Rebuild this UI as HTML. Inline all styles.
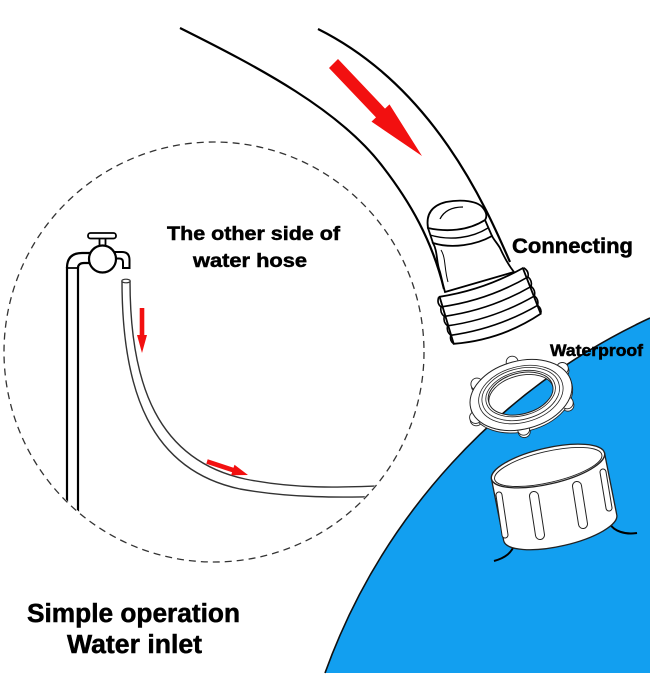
<!DOCTYPE html>
<html>
<head>
<meta charset="utf-8">
<style>
  html, body { margin: 0; padding: 0; background: #fff; }
  svg { display: block; }
  text { font-family: "Liberation Sans", Arial, sans-serif; font-weight: bold; fill: #000; stroke: #000; stroke-width: 0.5; }
</style>
</head>
<body>
<svg width="650" height="700" viewBox="0 0 650 700" xmlns="http://www.w3.org/2000/svg">
  <defs>
    <clipPath id="circ"><circle cx="214" cy="352" r="209"/></clipPath>
  </defs>
  <rect width="650" height="700" fill="#fff"/>

  <!-- blue tank -->
  <path d="M650 318 A626 626 0 0 0 325 673 L650 673 Z" fill="#129ff0"/>
  <path d="M650 318 A626 626 0 0 0 325 673" fill="none" stroke="#111" stroke-width="1.6"/>

  <!-- dashed circle -->
  <circle cx="214" cy="352" r="210" fill="none" stroke="#333" stroke-width="1.3" stroke-dasharray="7 5"/>

  <!-- inside circle: faucet + small hose -->
  <g clip-path="url(#circ)">
    <line x1="67" y1="267" x2="67" y2="600" stroke="#000" stroke-width="2.2"/>
    <line x1="78" y1="267" x2="78" y2="600" stroke="#000" stroke-width="2.2"/>
    <line x1="67" y1="268" x2="78" y2="268" stroke="#000" stroke-width="1.8"/>
    <path d="M67 268 C67 258 72 253 82 253 L92 253" fill="none" stroke="#000" stroke-width="2.2"/>
    <path d="M78 268 C78 265 80 263 84 263 L92 263" fill="none" stroke="#000" stroke-width="2.2"/>
    <path d="M112 252 L122 252 Q129.5 252 129.5 260 L129.5 268 L123 268 L123 262 Q123 258.5 119 258.5 L112 258.5 Z" fill="#fff" stroke="#000" stroke-width="2"/>
    <rect x="99.5" y="237" width="6" height="9" fill="#fff" stroke="#000" stroke-width="1.8"/>
    <rect x="88" y="233" width="28" height="5.5" rx="2.5" fill="#fff" stroke="#000" stroke-width="1.8"/>
    <circle cx="102.5" cy="259" r="13.5" fill="#fff" stroke="#000" stroke-width="2.2"/>

    <path d="M122 281 C122 390 150 470 240 489 C290 498 340 498 395 496" fill="none" stroke="#333" stroke-width="1.4"/>
    <path d="M130 281 C130 385 158 460 245 479 C295 489 340 488 395 485" fill="none" stroke="#333" stroke-width="1.4"/>
    <ellipse cx="126" cy="281" rx="4.2" ry="1.8" fill="#fff" stroke="#333" stroke-width="1.2"/>
  </g>

  <!-- small red arrows -->
  <polygon points="139.7,308 144.3,308 144.3,335 147,335 142,353 137,335 139.7,335" fill="#f21010"/>
  <polygon points="207.7,459.3 233.5,467.8 234.5,464.8 248,475 231.1,475.2 232.1,472.2 206.3,463.7" fill="#f21010"/>

  <!-- big hose -->
  <path d="M318 29 C434 87 486 207 510 262" fill="none" stroke="#000" stroke-width="2.2"/>
  <path d="M180 28 C260 68 340 110 383 167 C410 202 432 240 444 289" fill="none" stroke="#000" stroke-width="2.2"/>

  <!-- big red arrow -->
  <polygon points="338,59 385,108.6 389.5,104.4 422,156 371.5,121.6 376,117.4 329,68" fill="#f21010"/>

  <!-- connector -->
  <path d="M433 243 C438 252 436 262 440 272 C442 280 443 285 445 292 L514 272 C506 262 502 252 500 248 C497 243 494 240 492 236 Z" fill="#fff" stroke="#000" stroke-width="1.8"/>
  <path d="M441 250 C446 258 444 268 448 282" fill="none" stroke="#000" stroke-width="1"/>
  <path d="M428 228 L433 243 C452 249 476 245 492 236 L485 220 Z" fill="#fff" stroke="#000" stroke-width="1.8"/>
  <path d="M430 235 C450 241 472 238 488 228" fill="none" stroke="#000" stroke-width="1.4"/>
  <path d="M428 228 C426 216 430 206 446 202 C462 199 478 201 483 208 C487 213 487 217 485 220 C468 231 446 232 428 228 Z" fill="#fff" stroke="#000" stroke-width="1.8"/>
  <path d="M440 219 C444 211 452 207 463 207" fill="none" stroke="#000" stroke-width="1.3"/>

  <!-- thread (absolute coords) -->
  <path d="M439.6 296.8 Q483.8 290.0 522.8 268.1 L540.7 313.8 Q501.1 340.1 453.7 343.8 Z" fill="#fff" stroke="#000" stroke-width="1.8"/>
  <g fill="none" stroke="#000" stroke-width="1.6">
    <path d="M441.0 306.9 Q487.4 300.4 528.0 276.9"/>
    <path d="M444.2 316.4 Q490.7 309.9 531.2 286.4"/>
    <path d="M447.5 325.8 Q493.9 319.3 534.5 295.9"/>
    <path d="M450.7 335.3 Q497.2 328.8 537.7 305.3"/>
    <path d="M438.7 297.1 Q436.5 303.2 441.0 306.9 Q439.8 312.6 444.2 316.4 Q443.0 322.1 447.5 325.8 Q446.3 331.5 450.7 335.3 Q449.5 341.0 453.7 343.8"/>
    <path d="M523.8 267.8 Q529.2 271.2 528.0 276.9 Q532.4 280.7 531.2 286.4 Q535.7 290.2 534.5 295.9 Q538.9 299.6 537.7 305.3 Q542.2 309.1 540.7 313.8"/>
  </g>

  <!-- waterproof ring (absolute coords) -->
  <g stroke="#222" stroke-width="0.9" fill="#fff">
    <circle cx="567.85" cy="405.22" r="6"/>
    <circle cx="524.25" cy="431.62" r="6"/>
    <circle cx="476.25" cy="419.82" r="6"/>
    <circle cx="477.55" cy="386.52" r="6"/>
    <circle cx="512.85" cy="364.62" r="6"/>
    <circle cx="562.95" cy="370.92" r="6"/>
    <path fill-rule="evenodd" d="M471.42 410.88 A52 34 -15 1 0 571.88 383.96 A52 34 -15 1 0 471.42 410.88 Z M489.38 404.51 A33 20 -15 1 0 553.12 387.43 A33 20 -15 1 0 489.38 404.51 Z"/>
    <circle cx="567.2" cy="402.8" r="6"/>
    <circle cx="523.6" cy="429.2" r="6"/>
    <circle cx="475.6" cy="417.4" r="6"/>
    <circle cx="476.9" cy="384.1" r="6"/>
    <circle cx="512.2" cy="362.2" r="6"/>
    <circle cx="562.3" cy="368.5" r="6"/>
    <path fill-rule="evenodd" stroke-width="1" d="M470.77 408.46 A52 34 -15 1 0 571.23 381.54 A52 34 -15 1 0 470.77 408.46 Z M488.73 402.09 A33 20 -15 1 0 552.47 385.01 A33 20 -15 1 0 488.73 402.09 Z"/>
  </g>
  <g fill="none" stroke="#222" stroke-width="0.8">
    <path d="M479.34 405.65 A43 27.5 -15 1 0 562.4 383.39 A43 27.5 -15 1 0 479.34 405.65 Z"/>
    <path d="M482.59 404.25 A39.5 25 -15 1 0 558.89 383.81 A39.5 25 -15 1 0 482.59 404.25 Z"/>
    <path d="M486.31 402.74 A35.5 22 -15 1 0 554.89 384.36 A35.5 22 -15 1 0 486.31 402.74 Z"/>
  </g>

  <!-- cap legs -->
  <path d="M515 543 C512 553 505 558 494 561" fill="none" stroke="#000" stroke-width="2"/>
  <path d="M610 524 C614 531 625 535 637 533" fill="none" stroke="#000" stroke-width="2"/>

  <!-- cap (absolute coords) -->
  <path d="M491.48 479.05 L503.72 540.89 A58 18 -13 0 0 616.75 514.79 L604.52 452.95 Z" fill="#fff" stroke="#222" stroke-width="1.3"/>
  <path d="M491.48 479.05 A58 18 -13 1 0 604.52 452.95 A58 18 -13 1 0 491.48 479.05 Z" fill="#fff" stroke="#222" stroke-width="1.3"/>
  <path d="M494.64 479.35 A55 15.5 -13 1 0 601.82 454.59 A55 15.5 -13 1 0 494.64 479.35 Z" fill="none" stroke="#222" stroke-width="0.9"/>
  <g stroke-linecap="round" fill="none">
    <line x1="499" y1="495" x2="505" y2="535" stroke="#222" stroke-width="7"/>
    <line x1="499" y1="495" x2="505" y2="535" stroke="#fff" stroke-width="5"/>
    <line x1="534" y1="496" x2="540" y2="535" stroke="#222" stroke-width="10"/>
    <line x1="534" y1="496" x2="540" y2="535" stroke="#fff" stroke-width="8"/>
    <line x1="577" y1="486" x2="583" y2="524" stroke="#222" stroke-width="10"/>
    <line x1="577" y1="486" x2="583" y2="524" stroke="#fff" stroke-width="8"/>
    <line x1="603" y1="472" x2="609" y2="508" stroke="#222" stroke-width="7"/>
    <line x1="603" y1="472" x2="609" y2="508" stroke="#fff" stroke-width="5"/>
  </g>

  <!-- labels -->
  <text x="167" y="240" font-size="19" textLength="173" lengthAdjust="spacingAndGlyphs">The other side of</text>
  <text x="193" y="267" font-size="19" textLength="114" lengthAdjust="spacingAndGlyphs">water hose</text>
  <text x="512" y="253" font-size="21.5" textLength="121" lengthAdjust="spacingAndGlyphs">Connecting</text>
  <text x="550" y="356" font-size="16.5" textLength="93" lengthAdjust="spacingAndGlyphs">Waterproof</text>
  <text x="27" y="622" font-size="25.5" textLength="213" lengthAdjust="spacingAndGlyphs">Simple operation</text>
  <text x="67" y="653" font-size="25.5" textLength="135" lengthAdjust="spacingAndGlyphs">Water inlet</text>
</svg>
</body>
</html>
